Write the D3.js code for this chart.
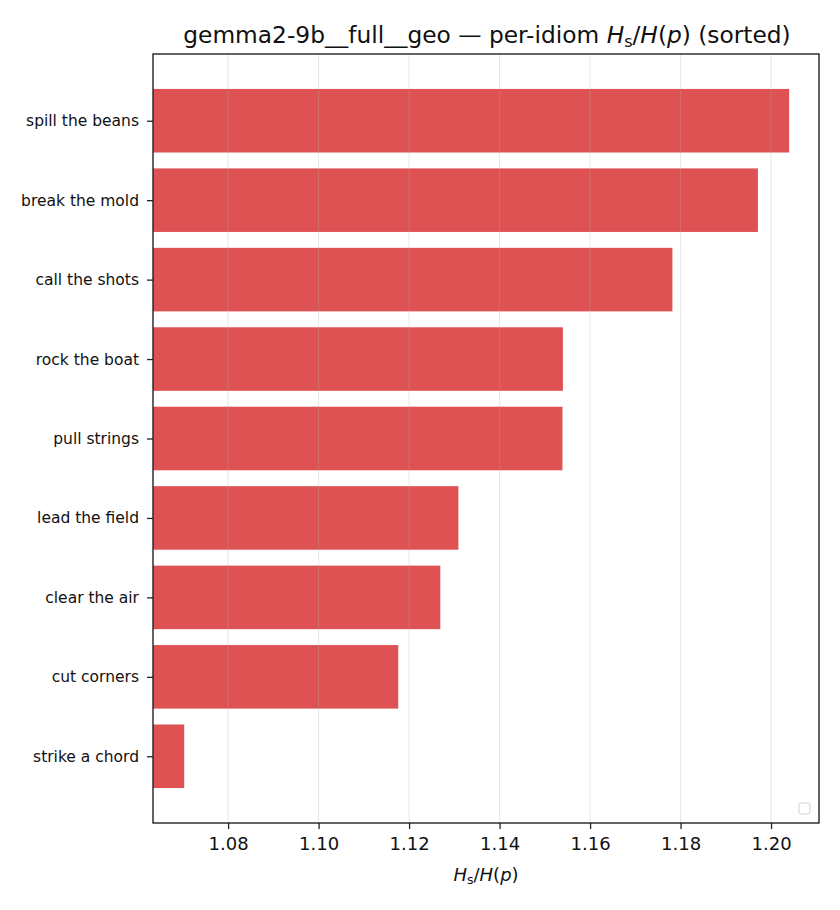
<!DOCTYPE html>
<html>
<head>
<meta charset="utf-8">
<script src="https://cdn.jsdelivr.net/npm/d3@7"></script>
<style>
  body { margin: 0; background: #fff; }
  text { font-family: "DejaVu Sans", sans-serif; fill: #111; }
</style>
</head>
<body>
<script>
// idioms, bottom to top
const idioms = ["strike a chord", "cut corners", "clear the air", "lead the field", "pull strings",
  "rock the boat", "call the shots", "break the mold", "spill the beans"]
const ratios = [1.0703, 1.1176, 1.1269, 1.1309, 1.1539, 1.1540, 1.1782, 1.1971, 1.2040]
const xTicks = [1.08, 1.10, 1.12, 1.14, 1.16, 1.18, 1.20]

const W = 840, H = 910
const m = {left: 153, right: 21, top: 54, bottom: 87}

const svg = d3.select("body").append("svg").attr("width", W).attr("height", H)

const x = d3.scaleLinear().domain([1.0634, 1.2106]).range([m.left, W - m.right])
const y = d3.scaleLinear().domain([-0.84, idioms.length - 1 + 0.84]).range([H - m.bottom, m.top])
const barH = y(0) - y(0.8)

svg.selectAll(".bar")
  .data(ratios)
  .enter()
  .append("rect")
  .attr("x", x.range()[0])
  .attr("y", (d, i) => y(i) - barH / 2)
  .attr("width", d => x(d) - x.range()[0])
  .attr("height", barH)
  .attr("fill", "#d62728")
  .attr("fill-opacity", 0.8)

// grid drawn above the bars
svg.selectAll(".grid")
  .data(xTicks)
  .enter()
  .append("line")
  .attr("x1", d => x(d)).attr("x2", d => x(d))
  .attr("y1", m.top).attr("y2", H - m.bottom)
  .attr("stroke", "#b0b0b0")
  .attr("stroke-opacity", 0.3)
  .attr("stroke-width", 1)

const xAxis = svg.append("g")
  .attr("transform", "translate(0," + (H - m.bottom) + ")")
  .call(d3.axisBottom(x).tickValues(xTicks).tickFormat(d3.format(".2f")).tickSize(6).tickPadding(8))
xAxis.select(".domain").remove()
xAxis.selectAll("text").attr("font-size", "18px")

const yAxis = svg.append("g")
  .attr("transform", "translate(" + m.left + ",0)")
  .call(d3.axisLeft(y).tickValues(d3.range(idioms.length)).tickFormat(i => idioms[i]).tickSize(6).tickPadding(8))
yAxis.select(".domain").remove()
yAxis.selectAll("text").attr("font-size", "15.5px")

svg.selectAll(".tick line").attr("stroke", "#222").attr("stroke-width", 1.3)

// frame
svg.append("rect")
  .attr("x", m.left).attr("y", m.top)
  .attr("width", W - m.right - m.left).attr("height", H - m.bottom - m.top)
  .attr("fill", "none").attr("stroke", "#222").attr("stroke-width", 1.4)

// empty legend box
svg.append("rect")
  .attr("x", 799).attr("y", 803).attr("width", 11).attr("height", 11).attr("rx", 2)
  .attr("fill", "#fff").attr("stroke", "#d0d0d0").attr("stroke-width", 1)

const title = svg.append("text")
  .attr("x", (m.left + W - m.right) / 2 + 1).attr("y", 42.5)
  .attr("text-anchor", "middle").attr("font-size", "23.3px")
title.append("tspan").text("gemma2-9b__full__geo — per-idiom ")
title.append("tspan").attr("font-style", "italic").text("H")
title.append("tspan").attr("font-size", "16px").attr("dy", "4").text("s")
title.append("tspan").attr("dy", "-4").text("/")
title.append("tspan").attr("font-style", "italic").text("H")
title.append("tspan").text("(")
title.append("tspan").attr("font-style", "italic").text("p")
title.append("tspan").text(") (sorted)")

const xl = svg.append("text")
  .attr("x", (m.left + W - m.right) / 2).attr("y", 881)
  .attr("text-anchor", "middle").attr("font-size", "18px")
xl.append("tspan").attr("font-style", "italic").text("H")
xl.append("tspan").attr("font-size", "12.5px").attr("dy", "3").text("s")
xl.append("tspan").attr("dy", "-3").text("/")
xl.append("tspan").attr("font-style", "italic").text("H")
xl.append("tspan").text("(")
xl.append("tspan").attr("font-style", "italic").text("p")
xl.append("tspan").text(")")
</script>
</body>
</html>
